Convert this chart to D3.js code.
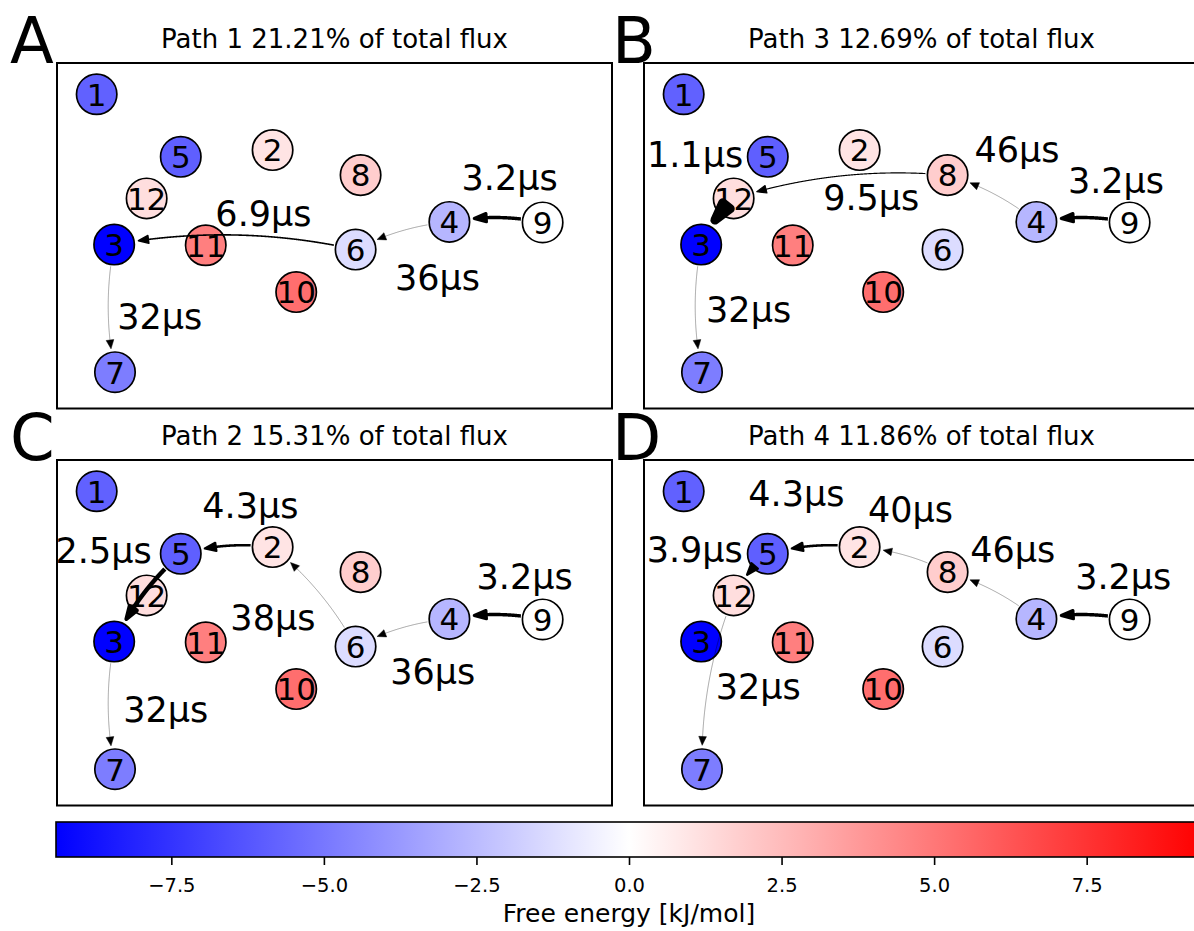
<!DOCTYPE html>
<html>
<head>
<meta charset="utf-8">
<script src="https://cdn.jsdelivr.net/npm/d3@7"></script>
<style>
  body { margin: 0; background: #fff; }
  svg { display: block; }
  text { font-family: "DejaVu Sans", "Noto Sans", sans-serif; fill: #000; }
</style>
</head>
<body>
<svg id="fig" width="1194" height="931"></svg>
<script>
// ---- Network layout shared by all four panels (layout units, y up) ----
const nodeIds    = [1, 2, 3, 4, 5, 6, 7, 8, 9, 10, 11, 12];
const nodeX      = [-0.857, -0.223, -0.794, 0.414, -0.554, 0.076, -0.791, 0.094, 0.750, -0.138, -0.464, -0.677];
const nodeY      = [0.819, 0.496, -0.051, 0.080, 0.457, -0.080, -0.790, 0.351, 0.077, -0.326, -0.055, 0.216];
// Free energy of each state [kJ/mol]
const freeEnergy = [-5.8, 1.0, -9.39, -2.7, -5.9, -1.3, -4.8, 1.85, 0.0, 5.35, 4.7, 1.2];

// ---- Panels ----
const panelLetters = ["A", "B", "C", "D"];
const pathNumbers  = [1, 3, 2, 4];
const fluxPercent  = [21.21, 12.69, 15.31, 11.86];

// Path 1
const path1Edges  = [[9, 4], [4, 6], [6, 3], [3, 7]];
const path1Times  = [3.2, 36, 6.9, 32];
const path1LabelX = [0.631, 0.371, -0.256, -0.630];
const path1LabelY = [0.264, -0.316, 0.057, -0.542];
// Path 3
const path3Edges  = [[9, 4], [4, 8], [8, 12], [12, 3], [3, 7]];
const path3Times  = [3.2, 46, 9.5, 1.1, 32];
const path3LabelX = [0.701, 0.344, -0.181, -0.816, -0.623];
const path3LabelY = [0.246, 0.428, 0.148, 0.397, -0.500];
// Path 2
const path2Edges  = [[9, 4], [4, 6], [6, 2], [2, 5], [5, 3], [3, 7]];
const path2Times  = [3.2, 36, 38, 4.3, 2.5, 32];
const path2LabelX = [0.685, 0.354, -0.222, -0.303, -0.832, -0.608];
const path2LabelY = [0.256, -0.294, 0.014, 0.662, 0.401, -0.517];
// Path 4
const path4Edges  = [[9, 4], [4, 8], [8, 2], [2, 5], [5, 12], [12, 7]];
const path4Times  = [3.2, 46, 40, 4.3, 3.9, 32];
const path4LabelX = [0.727, 0.329, -0.040, -0.451, -0.817, -0.588];
const path4LabelY = [0.252, 0.407, 0.639, 0.735, 0.407, -0.386];

// Colour bar
const energyLimit = 9.39;
const colorbarTicks = [-7.5, -5.0, -2.5, 0.0, 2.5, 5.0, 7.5];
const colorbarLabel = "Free energy [kJ/mol]";

// ---------------------------------------------------------------
const svg = d3.select("#fig");

// bwr colour map: blue -> white -> red, linear in RGB
const color = d3.scaleLinear()
  .domain([-energyLimit, 0, energyLimit])
  .range(["#0000ff", "#ffffff", "#ff0000"])
  .interpolate(d3.interpolateRgb);

// edge width follows the rate (1 / mean passage time)
const widthScale = d3.scaleLinear().domain([0, 1 / 1.1]).range([0, 10]);

const panelW = 555, panelH = 345.5;
const panels = [
  { x: 57,  y: 63,  letterX: 10,  edges: path1Edges, times: path1Times, lx: path1LabelX, ly: path1LabelY },
  { x: 644, y: 63,  letterX: 612, edges: path3Edges, times: path3Times, lx: path3LabelX, ly: path3LabelY },
  { x: 57,  y: 460, letterX: 10,  edges: path2Edges, times: path2Times, lx: path2LabelX, ly: path2LabelY },
  { x: 644, y: 460, letterX: 612, edges: path4Edges, times: path4Times, lx: path4LabelX, ly: path4LabelY }
];

const nodeR = 20.2;
const nodeFont = 31;
const nodes = nodeIds.map((id, i) => ({ id, x: nodeX[i], y: nodeY[i], g: freeEnergy[i] }));
const nodeById = new Map(nodes.map(n => [n.id, n]));

function dist(a, b) { return Math.hypot(a[0] - b[0], a[1] - b[1]); }

// Curved (arc3, rad = 0.1) arrow between two node centres, shrunk to the node rims
function arrowGeometry(p1, p2, w) {
  const rad = 0.1;
  const mx = (p1[0] + p2[0]) / 2, my = (p1[1] + p2[1]) / 2;
  const dx = p2[0] - p1[0], dy = p2[1] - p1[1];
  const c = [mx - rad * dy, my + rad * dx];
  const N = 600, pts = [];
  for (let i = 0; i <= N; i++) {
    const t = i / N, a = (1 - t) * (1 - t), b = 2 * (1 - t) * t, d = t * t;
    pts.push([a * p1[0] + b * c[0] + d * p2[0], a * p1[1] + b * c[1] + d * p2[1]]);
  }
  const shrinkA = 22, shrinkB = 23.5 + w * 0.45;
  const headLen = 8.5 + 1.0 * w, headHalf = 3.8 + 0.1 * w;
  let iStart = pts.findIndex(p => dist(p, p1) >= shrinkA);
  let iTip = N;
  while (iTip > 0 && dist(pts[iTip], p2) < shrinkB) iTip--;
  const tip = pts[iTip];
  let iBack = iTip;
  while (iBack > 0 && dist(pts[iBack], tip) < headLen) iBack--;
  let u = [tip[0] - pts[iBack][0], tip[1] - pts[iBack][1]];
  const ul = Math.hypot(u[0], u[1]) || 1;
  u = [u[0] / ul, u[1] / ul];
  const base = [tip[0] - u[0] * headLen, tip[1] - u[1] * headLen];
  const perp = [-u[1], u[0]];
  const head = [tip,
    [base[0] + perp[0] * headHalf, base[1] + perp[1] * headHalf],
    [base[0] - perp[0] * headHalf, base[1] - perp[1] * headHalf]];
  let line = [];
  if (iBack > iStart) {
    line = pts.slice(iStart, iBack + 1);
    line.push([base[0] + u[0] * 1.5, base[1] + u[1] * 1.5]);
  }
  return { line, head };
}

panels.forEach((p, k) => {
  const sx = d3.scaleLinear().domain([-1, 1]).range([p.x, p.x + panelW]);
  const sy = d3.scaleLinear().domain([-1, 1]).range([p.y + panelH, p.y]);
  const g = svg.append("g");

  g.append("rect")
    .attr("x", p.x).attr("y", p.y)
    .attr("width", panelW).attr("height", panelH)
    .attr("fill", "none").attr("stroke", "#000").attr("stroke-width", 2);

  g.append("text")
    .attr("x", p.x + panelW / 2).attr("y", p.y - 15)
    .attr("text-anchor", "middle").attr("font-size", 26)
    .text(`Path ${pathNumbers[k]} ${fluxPercent[k].toFixed(2)}% of total flux`);

  g.append("text")
    .attr("x", p.letterX).attr("y", p.y)
    .attr("font-size", 64)
    .text(panelLetters[k]);

  // nodes
  const ng = g.append("g");
  ng.selectAll("circle").data(nodes).join("circle")
    .attr("cx", d => sx(d.x)).attr("cy", d => sy(d.y)).attr("r", nodeR)
    .attr("fill", d => color(d.g)).attr("stroke", "#000").attr("stroke-width", 1.7);
  ng.selectAll("text").data(nodes).join("text")
    .attr("x", d => sx(d.x)).attr("y", d => sy(d.y) + 0.364 * nodeFont)
    .attr("text-anchor", "middle").attr("font-size", nodeFont)
    .text(d => d.id);

  // path edges, drawn above the nodes
  const eg = g.append("g");
  p.edges.forEach((e, j) => {
    const a = nodeById.get(e[0]), b = nodeById.get(e[1]);
    const w = widthScale(1 / p.times[j]);
    const geo = arrowGeometry([sx(a.x), sy(a.y)], [sx(b.x), sy(b.y)], w);
    if (geo.line.length > 1) {
      eg.append("path")
        .attr("d", d3.line()(geo.line))
        .attr("fill", "none").attr("stroke", "#000")
        .attr("stroke-width", Math.max(w, 0.35));
    }
    eg.append("path")
      .attr("d", d3.line()(geo.head) + "Z")
      .attr("fill", "#000").attr("stroke", "#000")
      .attr("stroke-width", Math.max(w * 0.9, 0.5)).attr("stroke-linejoin", "round");
  });

  // mean first passage time labels
  const lg = g.append("g");
  p.edges.forEach((e, j) => {
    lg.append("text")
      .attr("x", sx(p.lx[j])).attr("y", sy(p.ly[j]))
      .attr("text-anchor", "middle").attr("font-size", 35)
      .text(`${p.times[j]}\u03bcs`);
  });
});

// ---- colour bar ----
const cbY = 822, cbH = 35;
const cbScale = d3.scaleLinear().domain([-energyLimit, energyLimit]).range([56, 1202]);
const defs = svg.append("defs");
const grad = defs.append("linearGradient").attr("id", "bwr")
  .attr("x1", "0%").attr("x2", "100%").attr("y1", "0%").attr("y2", "0%");
d3.range(0, 1.0001, 0.05).forEach(t => {
  grad.append("stop").attr("offset", `${t * 100}%`)
    .attr("stop-color", color(-energyLimit + 2 * energyLimit * t));
});
svg.append("rect")
  .attr("x", cbScale(-energyLimit)).attr("y", cbY)
  .attr("width", cbScale(energyLimit) - cbScale(-energyLimit)).attr("height", cbH)
  .attr("fill", "url(#bwr)").attr("stroke", "#000").attr("stroke-width", 1.6);

const cbAxis = svg.append("g")
  .attr("transform", `translate(0,${cbY + cbH})`)
  .call(d3.axisBottom(cbScale).tickValues(colorbarTicks).tickSize(8).tickFormat(d3.format(".1f")));
cbAxis.select(".domain").remove();
cbAxis.selectAll(".tick line").attr("stroke", "#000").attr("stroke-width", 1.6);
cbAxis.selectAll(".tick text")
  .attr("y", 34.5).attr("dy", null)
  .attr("font-size", 19.5).attr("font-family", "DejaVu Sans").attr("fill", "#000");

svg.append("text")
  .attr("x", cbScale(0)).attr("y", 921.5)
  .attr("text-anchor", "middle").attr("font-size", 25)
  .text(colorbarLabel);
</script>
</body>
</html>
